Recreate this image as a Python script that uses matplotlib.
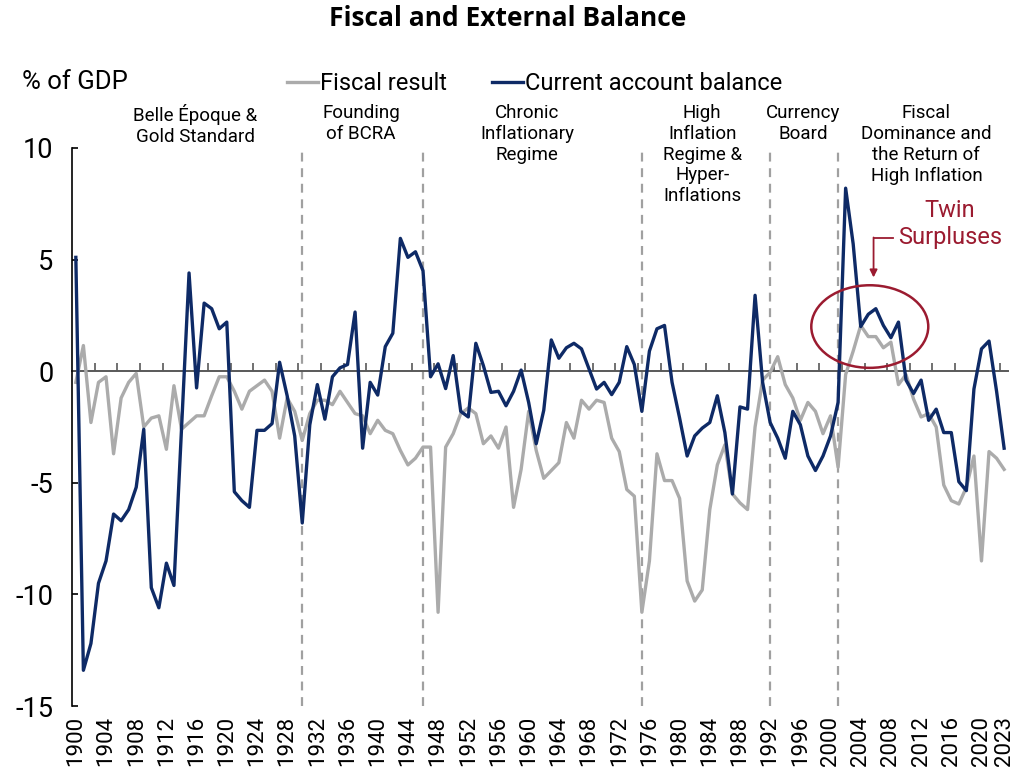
import numpy as np
import matplotlib
matplotlib.use("Agg")
import matplotlib.pyplot as plt
from matplotlib.patches import Ellipse
from matplotlib.transforms import blended_transform_factory

plt.rcParams["font.family"] = ["Roboto", "DejaVu Sans"]

# ---- data (% of GDP) ----
years = np.arange(1900, 2024)

fiscal_result = [
    -0.5, 1.15, -2.3, -0.5, -0.25, -3.7, -1.2, -0.5, -0.1, -2.5,      # 1900s
    -2.1, -2.0, -3.5, -0.65, -2.6, -2.3, -2.0, -2.0, -1.1, -0.25,     # 1910s
    -0.25, -0.9, -1.7, -0.9, -0.65, -0.4, -0.9, -3.0, -1.2, -1.8,     # 1920s
    -3.1, -1.9, -1.3, -1.3, -1.5, -0.9, -1.4, -1.9, -2.0, -2.8,       # 1930s
    -2.2, -2.65, -2.8, -3.55, -4.2, -3.9, -3.4, -3.4, -10.8, -3.4,    # 1940s
    -2.8, -1.9, -1.65, -1.9, -3.25, -2.9, -3.45, -2.5, -6.1, -4.4,    # 1950s
    -1.8, -3.55, -4.8, -4.45, -4.1, -2.3, -3.0, -1.3, -1.7, -1.3,     # 1960s
    -1.4, -3.0, -3.6, -5.3, -5.6, -10.8, -8.5, -3.7, -4.9, -4.9,      # 1970s
    -5.7, -9.4, -10.3, -9.8, -6.2, -4.2, -3.3, -5.5, -5.9, -6.2,      # 1980s
    -2.5, -0.4, -0.05, 0.65, -0.6, -1.2, -2.2, -1.4, -1.8, -2.8,      # 1990s
    -2.0, -4.3, -0.15, 0.9, 2.05, 1.55, 1.55, 1.05, 1.3, -0.6,        # 2000s
    -0.15, -1.25, -2.05, -1.9, -2.5, -5.1, -5.8, -5.95, -5.2, -3.8,   # 2010s
    -8.5, -3.6, -3.9, -4.4,                                           # 2020s
]

current_account = [
    5.1, -13.4, -12.2, -9.5, -8.5, -6.4, -6.7, -6.2, -5.2, -2.6,      # 1900s
    -9.7, -10.6, -8.6, -9.6, -2.6, 4.4, -0.75, 3.05, 2.8, 1.9,        # 1910s
    2.2, -5.4, -5.8, -6.1, -2.65, -2.65, -2.35, 0.4, -1.1, -2.9,      # 1920s
    -6.8, -2.4, -0.6, -2.15, -0.25, 0.15, 0.3, 2.65, -3.45, -0.5,     # 1930s
    -1.07, 1.1, 1.7, 5.95, 5.1, 5.35, 4.5, -0.25, 0.33, -0.78,        # 1940s
    0.7, -1.8, -2.05, 1.25, 0.25, -0.95, -0.9, -1.55, -0.9, 0.05,     # 1950s
    -1.4, -3.25, -1.75, 1.4, 0.58, 1.05, 1.25, 1.0, 0.1, -0.8,        # 1960s
    -0.5, -1.05, -0.5, 1.1, 0.3, -1.8, 0.9, 1.9, 2.05, -0.5,          # 1970s
    -2.1, -3.8, -2.9, -2.55, -2.3, -1.1, -2.75, -5.5, -1.6, -1.7,     # 1980s
    3.4, -0.5, -2.3, -3.0, -3.9, -1.8, -2.4, -3.8, -4.45, -3.8,       # 1990s
    -2.9, -1.4, 8.2, 5.7, 2.0, 2.55, 2.8, 2.05, 1.5, 2.2,             # 2000s
    -0.4, -1.0, -0.4, -2.2, -1.7, -2.75, -2.75, -4.95, -5.35, -0.8,   # 2010s
    1.0, 1.35, -0.9, -3.45,                                           # 2020s
]

label_years = list(range(1900, 2021, 4)) + [2023]
regime_breaks = [1930, 1946, 1975, 1992, 2001]
regime_names = [
    "Belle Époque &\nGold Standard",
    "Founding\nof BCRA",
    "Chronic\nInflationary\nRegime",
    "High\nInflation\nRegime &\nHyper-\nInflations",
    "Currency\nBoard",
    "Fiscal\nDominance and\nthe Return of\nHigh Inflation",
]
regime_label_x = [1915.8, 1937.8, 1959.8, 1983.0, 1996.4, 2012.7]

NAVY = "#0E2A66"
GREY = "#ABABAB"
RED = "#9B1B30"


def main():
    fig = plt.figure(figsize=(10.15, 7.76), dpi=100)
    ax = fig.add_axes([0.071, 0.0902, 0.922, 0.7191])

    ax.set_xlim(1899.5, 2023.5)
    ax.set_ylim(-15, 10)

    # regime separators
    for yr in regime_breaks:
        ax.axvline(yr, color="#A0A0A0", lw=1.6, ls=(0, (4, 3)), zorder=1)

    ax.plot(years, fiscal_result, color=GREY, lw=2.4, label="Fiscal result", zorder=3,
            solid_joinstyle="round")
    ax.plot(years, current_account, color=NAVY, lw=2.4, label="Current account balance",
            zorder=4, solid_joinstyle="round")

    # spines: y axis on the left, x axis line through zero
    for side in ("top", "right"):
        ax.spines[side].set_visible(False)
    ax.spines["left"].set_linewidth(1.2)
    ax.spines["bottom"].set_position(("data", 0))
    ax.spines["bottom"].set_color("#595959")
    ax.spines["bottom"].set_linewidth(1.4)
    ax.spines["bottom"].set_zorder(2)

    ax.set_yticks([10, 5, 0, -5, -10, -15])
    ax.set_yticklabels(["10", "5", "0", "-5", "-10", "-15"])
    ax.tick_params(axis="y", direction="in", length=4, width=1.2, pad=13.5, labelsize=19.5)

    ax.set_xticks(np.arange(1902.5, 2023, 3))
    ax.tick_params(axis="x", direction="in", length=6, width=1.2, color="#595959",
                   labelbottom=False)

    sec = ax.secondary_xaxis("bottom")
    sec.spines["bottom"].set_visible(False)
    sec.set_xticks(label_years)
    sec.set_xticklabels([str(y) for y in label_years], rotation=90)
    sec.tick_params(axis="x", length=0, pad=7, labelsize=16)

    # period labels above the plot
    trans = blended_transform_factory(ax.transData, fig.transFigure)
    for name, xpos in zip(regime_names, regime_label_x):
        ax.text(xpos, 1 - 104 / 776, name, transform=trans, ha="center", va="top",
                fontsize=13.5, linespacing=1.2, clip_on=False)

    # twin surpluses highlight
    ax.add_patch(Ellipse((2005.2, 2.0), 15.5, 3.7, fill=False, edgecolor=RED, lw=1.8,
                         zorder=5))
    ax.text(2015.8, 6.6, "Twin\nSurpluses", color=RED, ha="center", va="center",
            fontsize=17, linespacing=1.25)
    ax.plot([2008.3, 2005.7], [5.96, 5.96], color=RED, lw=1.3, zorder=5)
    ax.annotate("", xy=(2005.7, 4.2), xytext=(2005.7, 5.99),
                arrowprops=dict(arrowstyle="-|>", color=RED, lw=1.3, mutation_scale=11,
                                shrinkA=0, shrinkB=0), zorder=5)

    fig.text(0.5, 1 - 18 / 776, "Fiscal and External Balance", ha="center", va="center",
             fontsize=19, fontweight="bold", family=["Open Sans", "DejaVu Sans"])
    fig.text(22 / 1015, 1 - 82 / 776, "% of GDP", ha="left", va="center", fontsize=18.5)

    fig.legend(loc="center", bbox_to_anchor=(0.527, 1 - 84 / 776), ncol=2, frameon=False,
               fontsize=17, handlelength=1.3, handletextpad=0.1, columnspacing=1.9)

    fig.savefig("out.png", dpi=100)
    plt.close(fig)


if __name__ == "__main__":
    main()
